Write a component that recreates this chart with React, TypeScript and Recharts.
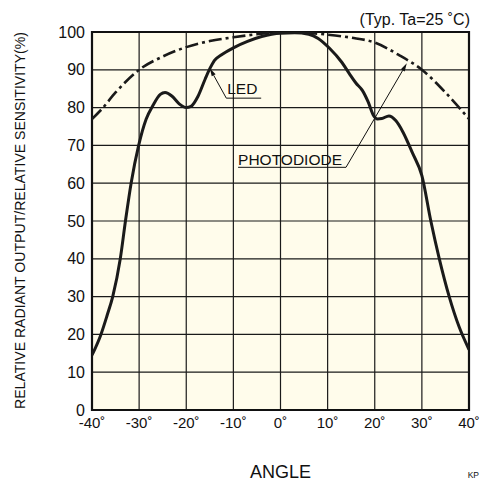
import {
  LineChart,
  Line,
  XAxis,
  YAxis,
  CartesianGrid,
  ReferenceArea,
  ReferenceLine,
  ReferenceDot,
} from "recharts";

// solid curve (LED radiant output)
const ledAngle = [-40, -38.1, -36.8, -35.6, -34, -32.9, -31.7, -30.1, -28.5, -27.1, -25.5, -24.5, -23, -21.5, -20, -19, -17.5, -16, -15, -14, -12.5, -10, -7, -4, 0, 3, 6, 8, 10.4, 13, 14.6, 16, 17.4, 18.6, 19.7, 20.6, 21.5, 23, 24.5, 26, 28, 30, 31.9, 33.7, 35.8, 37.9, 40];
const ledOutput = [14.5, 20, 25, 30, 40, 50, 60, 70, 77, 80.5, 83.5, 84, 83, 81, 80, 80.3, 83, 87.5, 90.3, 92.5, 94, 95.8, 97.5, 98.8, 99.7, 99.8, 99.4, 98.3, 95.7, 92, 89, 86.5, 84.5, 81.5, 78, 77, 77.1, 77.8, 76.5, 73.5, 68, 62, 50, 40, 30, 22, 16];

// dash-dot curve (photodiode sensitivity)
const pdAngle = [-40, -38, -35, -30, -25, -20, -15, -10, -5, 0, 5, 10, 15, 20, 25, 30, 35, 40];
const pdSensitivity = [77, 79.5, 84, 90, 93.5, 96, 97.6, 98.6, 99.4, 99.9, 99.8, 99.3, 98.5, 97.2, 94, 90, 84, 77];

const xTicks = [-40, -30, -20, -10, 0, 10, 20, 30, 40];
const yTicks = [0, 10, 20, 30, 40, 50, 60, 70, 80, 90, 100];

const ledData = ledAngle.map((a, i) => ({ angle: a, value: ledOutput[i] }));
const pdData = pdAngle.map((a, i) => ({ angle: a, value: pdSensitivity[i] }));

const FONT = "'Liberation Sans', Arial, Helvetica, sans-serif";

const plainLine = (p: any) => (
  <line x1={p.x1} y1={p.y1} x2={p.x2} y2={p.y2} stroke="#111" strokeWidth={1} />
);

// leader with a small arrowhead at the second point
const arrowLine = (p: any) => {
  const { x1, y1, x2, y2 } = p;
  const dx = x2 - x1;
  const dy = y2 - y1;
  const len = Math.sqrt(dx * dx + dy * dy) || 1;
  const ux = dx / len;
  const uy = dy / len;
  const bx = x2 - ux * 8;
  const by = y2 - uy * 8;
  const pts = `${x2},${y2} ${bx - uy * 2.2},${by + ux * 2.2} ${bx + uy * 2.2},${by - ux * 2.2}`;
  return (
    <g>
      <line x1={x1} y1={y1} x2={bx} y2={by} stroke="#111" strokeWidth={1} />
      <polygon points={pts} fill="#111" />
    </g>
  );
};

const tag = (text: string) => (p: any) => (
  <text x={p.cx} y={p.cy} fontFamily={FONT} fontSize={15.5} fill="#111">
    {text}
  </text>
);

export default function App() {
  return (
    <div style={{ position: "absolute", left: 0, top: 0, width: 482, height: 483, background: "#fff" }}>
      <LineChart
        width={482}
        height={483}
        margin={{ top: 32, right: 13, bottom: 33, left: 52 }}
      >
        <CartesianGrid fill="#fffceb" stroke="#1a1a1a" strokeWidth={1.2} />
        <XAxis
          type="number"
          dataKey="angle"
          domain={[-40, 40]}
          ticks={xTicks}
          height={40}
          tickSize={0}
          tickMargin={7}
          axisLine={false}
          tickLine={false}
          tickFormatter={(v: number) => `${v}˚`}
          tick={{ fill: "#111", fontSize: 15, fontFamily: FONT }}
          allowDataOverflow
        />
        <YAxis
          type="number"
          domain={[0, 100]}
          ticks={yTicks}
          width={40}
          tickSize={0}
          tickMargin={7}
          axisLine={false}
          tickLine={false}
          tick={{ fill: "#111", fontSize: 16, fontFamily: FONT }}
          allowDataOverflow
        />
        <ReferenceArea
          x1={-40}
          x2={40}
          y1={0}
          y2={100}
          fill="none"
          stroke="#111"
          strokeWidth={2.2}
          ifOverflow="visible"
        />
        <Line
          data={pdData}
          dataKey="value"
          type="monotone"
          stroke="#1a1a1a"
          strokeWidth={2.6}
          strokeDasharray="13 4 3 4"
          dot={false}
          activeDot={false}
          isAnimationActive={false}
        />
        <Line
          data={ledData}
          dataKey="value"
          type="monotone"
          stroke="#1a1a1a"
          strokeWidth={3}
          dot={false}
          activeDot={false}
          isAnimationActive={false}
        />
        <ReferenceLine segment={[{ x: -11.5, y: 82.5 }, { x: -15.0, y: 90.4 }]} shape={arrowLine} />
        <ReferenceLine segment={[{ x: -11.5, y: 82.5 }, { x: -4.1, y: 82.5 }]} shape={plainLine} />
        <ReferenceDot x={-11.3} y={83.6} r={0} shape={tag("LED")} />
        <ReferenceLine segment={[{ x: 13.9, y: 64.2 }, { x: 26.8, y: 91.7 }]} shape={arrowLine} />
        <ReferenceLine segment={[{ x: -9.0, y: 64.2 }, { x: 13.9, y: 64.2 }]} shape={plainLine} />
        <ReferenceDot x={-9.0} y={64.8} r={0} shape={tag("PHOTODIODE")} />
      </LineChart>
      <svg
        width={482}
        height={483}
        style={{ position: "absolute", left: 0, top: 0, pointerEvents: "none" }}
        fontFamily={FONT}
        fill="#111"
      >
        <text x={470} y={25} fontSize={16} textAnchor="end">
          (Typ. Ta=25 ˚C)
        </text>
        <text
          transform="translate(25,220.5) rotate(-90)"
          fontSize={15}
          textAnchor="middle"
          textLength={377}
          lengthAdjust="spacingAndGlyphs"
        >
          RELATIVE RADIANT OUTPUT/RELATIVE SENSITIVITY(%)
        </text>
        <text x={280.5} y={478} fontSize={18} textAnchor="middle">
          ANGLE
        </text>
        <text x={479} y={478} fontSize={8.5} textAnchor="end">
          KP
        </text>
      </svg>
    </div>
  );
}
